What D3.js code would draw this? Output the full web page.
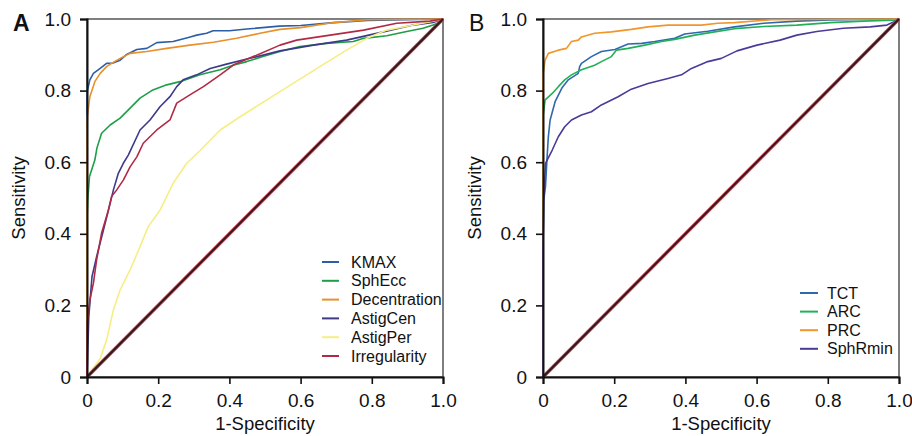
<!DOCTYPE html>
<html>
<head>
<meta charset="utf-8">
<script src="https://cdn.jsdelivr.net/npm/d3@7"></script>
<style>
  body { margin: 0; background: #fff; }
  svg { display: block; }
  text { font-family: "Liberation Sans", Arial, sans-serif; fill: #111; }
</style>
</head>
<body>
<svg id="chart"></svg>
<script>
// ---- data (1-Specificity, Sensitivity) ----
const tickValues = [0, 0.2, 0.4, 0.6, 0.8, 1.0];

const kmax = [[0,0],[0,0.77],[0.001,0.80],[0.008,0.83],[0.018,0.848],[0.037,0.862],[0.055,0.876],[0.073,0.877],
  [0.093,0.885],[0.11,0.90],[0.14,0.915],[0.168,0.918],[0.196,0.934],[0.242,0.937],[0.29,0.95],[0.308,0.955],
  [0.336,0.96],[0.354,0.967],[0.40,0.967],[0.449,0.972],[0.54,0.98],[0.60,0.982],[0.693,0.99],[0.787,0.996],[1,1]];
const sphEcc = [[0,0],[0,0.438],[0.002,0.494],[0.007,0.56],[0.022,0.606],[0.028,0.64],[0.041,0.681],[0.065,0.704],
  [0.093,0.723],[0.121,0.751],[0.149,0.779],[0.185,0.802],[0.224,0.816],[0.261,0.825],[0.317,0.844],[0.374,0.858],
  [0.41,0.871],[0.449,0.881],[0.494,0.895],[0.542,0.909],[0.598,0.923],[0.673,0.932],[0.748,0.937],[0.777,0.946],
  [0.842,0.953],[0.898,0.965],[0.944,0.974],[0.972,0.983],[0.996,0.992],[1,1]];
const decentration = [[0,0],[0,0.655],[0.001,0.727],[0.008,0.783],[0.022,0.825],[0.037,0.848],[0.055,0.867],
  [0.069,0.876],[0.093,0.89],[0.121,0.904],[0.168,0.909],[0.224,0.918],[0.289,0.927],[0.355,0.935],[0.42,0.946],
  [0.486,0.96],[0.542,0.971],[0.60,0.976],[0.693,0.99],[0.787,0.998],[1,1]];
const astigCen = [[0,0],[0.005,0.168],[0.014,0.28],[0.027,0.336],[0.046,0.41],[0.065,0.485],[0.074,0.522],
  [0.088,0.569],[0.102,0.597],[0.116,0.62],[0.149,0.69],[0.177,0.718],[0.205,0.755],[0.233,0.783],[0.252,0.811],
  [0.27,0.83],[0.308,0.844],[0.346,0.862],[0.392,0.874],[0.449,0.888],[0.542,0.911],[0.636,0.927],[0.729,0.941],
  [0.823,0.962],[0.916,0.983],[0.972,0.99],[1,1]];
const astigPer = [[0,0],[0.037,0.052],[0.055,0.103],[0.074,0.187],[0.093,0.243],[0.121,0.299],[0.149,0.364],
  [0.172,0.42],[0.205,0.466],[0.242,0.541],[0.28,0.597],[0.317,0.632],[0.374,0.69],[0.43,0.727],[0.505,0.774],
  [0.579,0.82],[0.654,0.867],[0.729,0.913],[0.786,0.946],[0.842,0.969],[0.917,0.983],[0.972,0.994],[1,1]];
const irregularity = [[0,0],[0,0.039],[0.001,0.15],[0.008,0.215],[0.018,0.262],[0.027,0.327],[0.041,0.402],
  [0.06,0.466],[0.069,0.504],[0.083,0.522],[0.102,0.55],[0.121,0.587],[0.14,0.615],[0.158,0.653],[0.196,0.69],
  [0.233,0.718],[0.252,0.765],[0.289,0.788],[0.327,0.811],[0.374,0.844],[0.412,0.872],[0.467,0.895],[0.542,0.927],
  [0.589,0.941],[0.683,0.955],[0.777,0.969],[0.87,0.988],[0.963,0.994],[1,1]];

const tct = [[0,0],[0,0.354],[0.002,0.494],[0.007,0.532],[0.011,0.606],[0.015,0.671],[0.02,0.718],[0.034,0.769],
  [0.053,0.807],[0.071,0.83],[0.099,0.848],[0.103,0.867],[0.108,0.876],[0.136,0.895],[0.164,0.909],[0.202,0.915],
  [0.239,0.93],[0.277,0.932],[0.314,0.937],[0.37,0.946],[0.398,0.958],[0.463,0.966],[0.538,0.978],[0.62,0.988],
  [0.713,0.994],[0.807,0.997],[1,1]];
const arc = [[0,0],[0,0.727],[0.006,0.774],[0.026,0.792],[0.043,0.811],[0.061,0.83],[0.08,0.844],[0.108,0.858],
  [0.145,0.871],[0.164,0.881],[0.192,0.895],[0.206,0.913],[0.239,0.918],[0.286,0.927],[0.333,0.937],[0.37,0.943],
  [0.426,0.955],[0.482,0.964],[0.538,0.973],[0.62,0.979],[0.713,0.983],[0.807,0.99],[0.9,0.994],[1,0.997],[1,1]];
const prc = [[0,0],[0,0.844],[0.006,0.885],[0.015,0.904],[0.043,0.913],[0.066,0.918],[0.08,0.937],[0.099,0.941],
  [0.108,0.95],[0.145,0.96],[0.192,0.964],[0.248,0.971],[0.295,0.978],[0.351,0.983],[0.445,0.983],[0.491,0.988],
  [0.538,0.99],[0.642,0.998],[1,1]];
const sphRmin = [[0,0],[0,0.35],[0.002,0.494],[0.007,0.597],[0.026,0.634],[0.043,0.671],[0.061,0.699],[0.08,0.718],
  [0.108,0.732],[0.136,0.741],[0.164,0.76],[0.211,0.783],[0.248,0.804],[0.295,0.82],[0.351,0.834],[0.389,0.844],
  [0.417,0.862],[0.463,0.881],[0.501,0.89],[0.545,0.911],[0.601,0.927],[0.666,0.941],[0.713,0.955],[0.769,0.965],
  [0.844,0.974],[0.919,0.978],[0.966,0.983],[0.985,0.992],[1,1]];

const panelA = {
  label: 'A',
  series: [
    { name: 'KMAX', color: '#2c5ea8', values: kmax },
    { name: 'SphEcc', color: '#1e9e48', values: sphEcc },
    { name: 'Decentration', color: '#e8902a', values: decentration },
    { name: 'AstigCen', color: '#3e3a8a', values: astigCen },
    { name: 'AstigPer', color: '#f6ee84', values: astigPer },
    { name: 'Irregularity', color: '#b12a45', values: irregularity }
  ]
};
const panelB = {
  label: 'B',
  series: [
    { name: 'TCT', color: '#2e68b0', values: tct },
    { name: 'ARC', color: '#21b057', values: arc },
    { name: 'PRC', color: '#f0962a', values: prc },
    { name: 'SphRmin', color: '#4b3a98', values: sphRmin }
  ]
};

const W = 912, H = 436;
const svg = d3.select('#chart').attr('width', W).attr('height', H);

function drawPanel(p, left, right, legend) {
  const top = 19, bottom = 377;
  const x = d3.scaleLinear().domain([0, 1]).range([left, right]);
  const y = d3.scaleLinear().domain([0, 1]).range([bottom, top]);
  const fmt = d => d === 0 ? '0' : d3.format('.1f')(d);
  const g = svg.append('g');

  // frame (top/right lighter)
  g.append('rect')
    .attr('x', left).attr('y', top)
    .attr('width', right - left).attr('height', bottom - top)
    .attr('fill', 'none').attr('stroke', '#555').attr('stroke-width', 1.5);

  const line = d3.line().x(d => x(d[0])).y(d => y(d[1]));

  // curves
  p.series.forEach(s => {
    g.append('path')
      .datum(s.values)
      .attr('fill', 'none')
      .attr('stroke', s.color)
      .attr('stroke-width', 1.6)
      .attr('stroke-linejoin', 'round')
      .attr('d', line);
  });

  // reference diagonal (red under dark)
  g.append('path').datum([[0, 0], [1, 1]])
    .attr('fill', 'none').attr('stroke', '#c8404f').attr('stroke-width', 3.6).attr('d', line);
  g.append('path').datum([[0, 0], [1, 1]])
    .attr('fill', 'none').attr('stroke', '#2b1a1c').attr('stroke-width', 1.8).attr('d', line);

  // axes
  const xAxis = g.append('g')
    .attr('transform', `translate(0,${bottom})`)
    .call(d3.axisBottom(x).tickValues(tickValues).tickFormat(fmt).tickSize(7).tickPadding(10));
  const yAxis = g.append('g')
    .attr('transform', `translate(${left},0)`)
    .call(d3.axisLeft(y).tickValues(tickValues).tickFormat(fmt).tickSize(7).tickPadding(9));
  [xAxis, yAxis].forEach(a => {
    a.select('.domain').attr('stroke', '#111').attr('stroke-width', 2);
    a.selectAll('.tick line').attr('stroke', '#111').attr('stroke-width', 1.6);
    a.selectAll('.tick text').attr('font-size', 19).attr('fill', '#111')
      .attr('font-family', '"Liberation Sans", Arial, sans-serif');
  });

  // axis titles
  g.append('text')
    .attr('x', (left + right) / 2).attr('y', 430)
    .attr('text-anchor', 'middle').attr('font-size', 18.5)
    .text('1-Specificity');
  g.append('text')
    .attr('transform', `translate(${left - 62},${(top + bottom) / 2}) rotate(-90)`)
    .attr('text-anchor', 'middle').attr('font-size', 18.5)
    .text('Sensitivity');

  // panel letter
  g.append('text')
    .attr('x', left - 74).attr('y', 31)
    .attr('font-size', 23)
    .attr('font-weight', p.label === 'A' ? 'bold' : 'normal')
    .text(p.label);

  // legend
  const lg = g.append('g').attr('transform', `translate(${legend.x},${legend.y})`);
  p.series.forEach((s, i) => {
    const row = lg.append('g').attr('transform', `translate(0,${i * legend.step})`);
    row.append('line')
      .attr('x1', 0).attr('x2', legend.len).attr('y1', 0).attr('y2', 0)
      .attr('stroke', s.color).attr('stroke-width', 2);
    row.append('text')
      .attr('x', legend.gap).attr('y', 5.5)
      .attr('font-size', 16)
      .text(s.name);
  });
}

drawPanel(panelA, 87, 443, { x: 322, y: 262, step: 18.8, len: 17, gap: 29 });
drawPanel(panelB, 543, 899, { x: 800, y: 293, step: 18.6, len: 18, gap: 27 });
</script>
</body>
</html>
